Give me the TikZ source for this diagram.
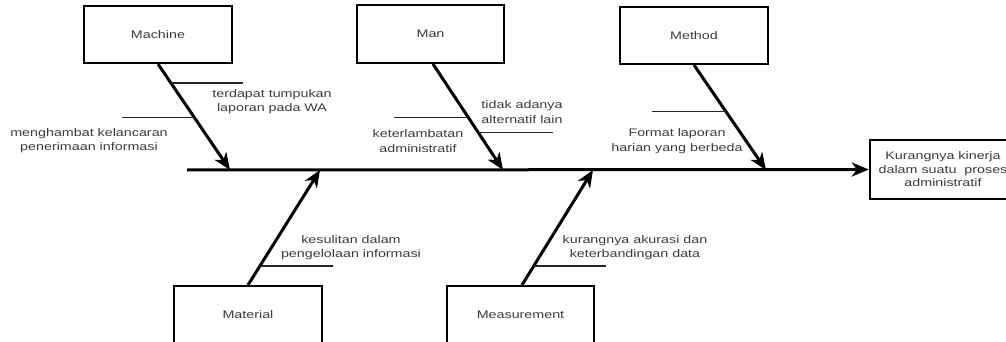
\documentclass[tikz,border=0pt]{standalone}
\usepackage{fontspec}
\setmainfont{Liberation Sans}
\usetikzlibrary{arrows.meta,calc}
\definecolor{txt}{RGB}{60,60,60}
\tikzset{
  catbox/.style={draw=black, line width=2pt, fill=white, minimum width=148pt,
    minimum height=57pt, inner sep=0pt, text=txt, font=\fontsize{11}{14.5}\selectfont},
  label/.style={text=txt, align=center, inner sep=0pt, xscale=1.3,
    font=\fontsize{11}{14.5}\selectfont},
  bone/.style={line width=3pt, -{Stealth[length=17pt,width=14pt,inset=5pt]}},
  twig/.style={line width=1.4pt, draw=black!85}
}
\begin{document}
\begin{tikzpicture}[x=1pt,y=-1pt]
\useasboundingbox (0,0) rectangle (1006,342);
\clip (0,0) rectangle (1006,342);

% category boxes
\node[catbox] (machine) at (158,34.5) {\scalebox{1.3}[1]{Machine}};
\node[catbox, minimum width=147pt, minimum height=58pt] (man) at (430.5,34) {\scalebox{1.3}[1]{Man}};
\node[catbox] (method) at (694,35.5) {\scalebox{1.3}[1]{Method}};
\node[catbox, minimum height=58pt] (material) at (248,315) {\scalebox{1.3}[1]{Material}};
\node[catbox, minimum width=147pt, minimum height=58pt] (measure) at (520.5,315) {\scalebox{1.3}[1]{Measurement}};

% effect box
\node[catbox, minimum width=146pt, minimum height=59pt, line width=2.4pt,
      align=center, font=\fontsize{11}{13.5}\selectfont] (effect) at (943,169.5)
  {\scalebox{1.3}[1]{Kurangnya kinerja}\\\scalebox{1.3}[1]{dalam suatu\ \ proses}\\\scalebox{1.3}[1]{administratif}};

% spine and its joints
\coordinate (tail) at (187,170);
\coordinate (j1) at (230,170);
\coordinate (j2) at (503,170);
\coordinate (j3) at (766,170);
\coordinate (j4) at (320,170);
\coordinate (j5) at (593,170);
\draw[bone] (tail) -- (effect.west);

% main bones
\draw[bone] (machine.south) -- (j1);
\draw[bone] ([xshift=2.5pt]man.south) -- (j2);
\draw[bone] (method.south) -- (j3);
\draw[bone] (material.north) -- (j4);
\draw[bone] ([xshift=1.5pt]measure.north) -- (j5);

% points on the bones where the causes branch off
\path (machine.south) -- (j1) coordinate[pos=0.178] (a1) coordinate[pos=0.505] (a2);
\path ([xshift=2.5pt]man.south) -- (j2) coordinate[pos=0.505] (b1) coordinate[pos=0.645] (b2);
\path (method.south) -- (j3) coordinate[pos=0.443] (c1);
\path (material.north) -- (j4) coordinate[pos=0.164] (d1);
\path ([xshift=1.5pt]measure.north) -- (j5) coordinate[pos=0.164] (e1);

% cause lines
\draw[twig] (a1) -- ++(72,0);
\draw[twig] (a2) -- ++(-72,0);
\draw[twig] (b1) -- ++(-74,0);
\draw[twig] (b2) -- ++(75,0);
\draw[twig] (c1) -- ++(-74,0);
\draw[twig] (d1) -- ++(73,0);
\draw[twig] (e1) -- ++(72,0);

% cause texts
\node[label] (t1) at (272,101.5) {terdapat tumpukan\\laporan pada WA};
\node[label] (t2) at (89,140.5) {menghambat kelancaran\\penerimaan informasi};
\node[label] (t3) at (522,112) {tidak adanya\\alternatif lain};
\node[label] (t4) at (418,141) {keterlambatan\\administratif};
\node[label] (t5) at (677,141) {Format laporan\\harian yang berbeda};
\node[label] (t6) at (351,247.5) {kesulitan dalam\\pengelolaan informasi};
\node[label] (t7) at (635,247.5) {kurangnya akurasi dan\\keterbandingan data};
\end{tikzpicture}
\end{document}
